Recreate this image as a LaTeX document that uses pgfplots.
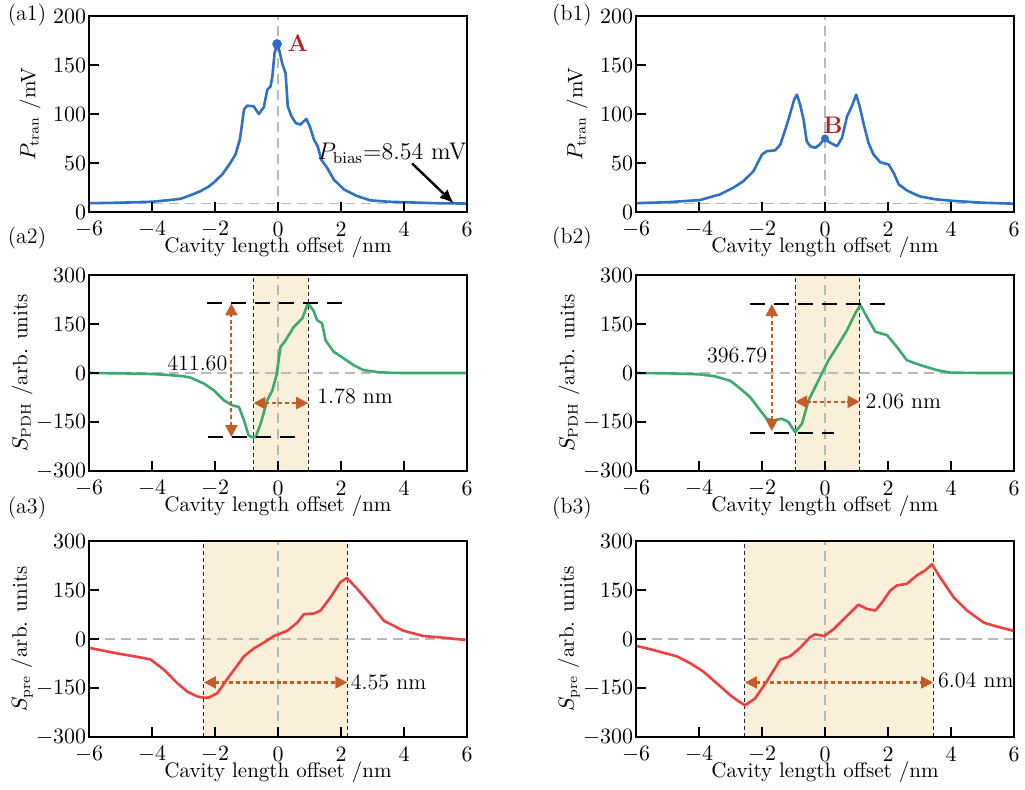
\documentclass[border=0pt]{standalone}
\usepackage{pgfplots}
\pgfplotsset{compat=1.18}
\usetikzlibrary{arrows.meta}
\definecolor{cblue}{RGB}{46,112,196}
\definecolor{cgreen}{RGB}{60,170,110}
\definecolor{cred}{RGB}{238,64,64}
\definecolor{corange}{RGB}{196,92,40}
\definecolor{cshade}{RGB}{250,240,218}
\definecolor{cgray}{RGB}{185,185,185}
\definecolor{cdark}{RGB}{178,34,34}
\tikzset{
  zeroline/.style={cgray, line width=0.7pt, dash pattern=on 5pt off 3pt},
  vline/.style={black!85, line width=0.5pt, dash pattern=on 2pt off 1.5pt},
  hline/.style={black, line width=1pt, dash pattern=on 7.5pt off 4.5pt},
  oarrow/.style={corange, line width=1.1pt, dash pattern=on 2pt off 1.4pt, {Triangle[length=6pt,width=6pt]}-{Triangle[length=6pt,width=6pt]}},
  curve/.style={line width=1.3pt, line join=round},
}
\pgfplotsset{
  panel/.style={
    scale only axis, width=189pt, height=98pt,
    xmin=-6, xmax=6, xtick={-6,-4,...,6},
    axis line style={line width=0.9pt},
    tick align=inside, tick pos=left, major tick length=5pt,
    every tick/.style={black, line width=0.9pt},
    tick label style={font=\fontsize{11}{13}\selectfont, inner sep=1pt},
    xticklabel style={anchor=center, yshift=-8.5pt},
    yticklabel style={xshift=-0.3pt},
    label style={font=\fontsize{10.5}{12}\selectfont},
    xlabel={Cavity length offset /nm},
    xlabel style={at={(axis description cs:0.5,0)}, anchor=center, yshift=-17.5pt},
    axis on top,
  },
  sig/.style={panel, ymin=-300, ymax=300, ytick={-300,-150,0,150,300},
    ylabel style={at={(axis description cs:-0.177,0.5)}, anchor=center}},
}
\begin{document}
\begin{tikzpicture}
\path[use as bounding box] (0,0) rectangle (512.5pt,-394.5pt);
\node[font=\fontsize{11}{13}\selectfont] at (13.5pt,-7.5pt) {(a1)};
\node[font=\fontsize{11}{13}\selectfont] at (13.5pt,-119pt) {(a2)};
\node[font=\fontsize{11}{13}\selectfont] at (13.5pt,-254pt) {(a3)};
\node[font=\fontsize{11}{13}\selectfont] at (286pt,-7.5pt) {(b1)};
\node[font=\fontsize{11}{13}\selectfont] at (286pt,-119pt) {(b2)};
\node[font=\fontsize{11}{13}\selectfont] at (286pt,-254pt) {(b3)};

% ---------------- (a1)
\begin{axis}[panel, at={(44.5pt,-8pt)}, anchor=north west,
  ymin=0, ymax=200, ytick={0,50,100,150,200},
  ylabel={$P_{\mathrm{tran}}$ /mV},
  ylabel style={at={(axis description cs:-0.156,0.5)}, anchor=center}]
\addplot[zeroline, forget plot] coordinates {(-6,8.54) (6,8.54)};
\addplot[zeroline, forget plot] coordinates {(0,0) (0,200)};
\addplot[cblue, curve, mark=none] coordinates {
(-6,9) (-5,9.5) (-4,10.5) (-3.5,12) (-3.09,13.5) (-2.75,17.5) (-2.45,21.4) (-2.2,26) (-2.04,30) (-1.77,38.3) (-1.51,50.2) (-1.35,58.7) (-1.21,74) (-1.08,104.4) (-0.98,108.5) (-0.77,107.8) (-0.61,100) (-0.45,107) (-0.34,124.8) (-0.24,128) (-0.18,138) (-0.11,162) (-0.03,171.5) (0.05,163.7) (0.13,152) (0.24,141.7) (0.31,107.8) (0.43,97.6) (0.56,90.9) (0.71,89.2) (0.9,95) (1.01,87.4) (1.14,74) (1.26,67.1) (1.37,53.6) (1.56,45.1) (1.77,33.2) (2.09,23.1) (2.51,16.3) (2.93,11.9) (3.5,10.5) (4,10) (5,9) (6,8.6)};
\addplot[cblue, only marks, mark=*, mark size=2.2pt] coordinates {(-0.03,171.5)};
\node[cdark, font=\fontsize{12}{14}\selectfont\bfseries] at (axis cs:0.63,172) {A};
\node[font=\fontsize{12}{14}\selectfont] at (axis cs:3.62,60) {$P_{\mathrm{bias}}$=8.54 mV};
\draw[black, line width=1.2pt, -{Latex[length=7pt,width=6pt]}] (axis cs:4.26,49.5) -- (axis cs:5.58,8.8);
\end{axis}

% ---------------- (b1)
\begin{axis}[panel, at={(318pt,-8pt)}, anchor=north west,
  ymin=0, ymax=200, ytick={0,50,100,150,200},
  ylabel={$P_{\mathrm{tran}}$ /mV},
  ylabel style={at={(axis description cs:-0.156,0.5)}, anchor=center}]
\addplot[zeroline, forget plot] coordinates {(-6,8.54) (6,8.54)};
\addplot[zeroline, forget plot] coordinates {(0,0) (0,200)};
\addplot[cblue, curve, mark=none] coordinates {
(-6,9) (-5,10) (-3.97,12.2) (-3.33,18) (-2.91,24.8) (-2.59,31.5) (-2.27,41.7) (-2.0,58.7) (-1.85,62) (-1.58,63) (-1.42,68.8) (-1.26,84) (-1.1,101) (-0.98,114.6) (-0.89,119.7) (-0.79,109.5) (-0.68,94.3) (-0.58,72.2) (-0.47,67.1) (-0.31,65.5) (-0.17,68.8) (-0.02,74.6) (0.17,70.6) (0.38,67.1) (0.54,75.6) (0.7,97.6) (0.85,107.8) (0.99,119.7) (1.1,107.8) (1.22,90.9) (1.38,70.6) (1.54,58.7) (1.75,50.8) (2.02,48.5) (2.18,40) (2.34,28.2) (2.6,22) (3.0,16) (3.5,13) (4,11.5) (5,9.5) (6,8.5)};
\addplot[cblue, only marks, mark=*, mark size=1.8pt] coordinates {(0,75)};
\node[cdark, font=\fontsize{12}{14}\selectfont\bfseries] at (axis cs:0.25,89) {B};
\end{axis}

% ---------------- (a2)
\begin{axis}[sig, at={(44.5pt,-137.5pt)}, anchor=north west,
  ylabel={$S_{\mathrm{PDH}}$ /arb. units}]
\addplot[fill=cshade, draw=none, forget plot] coordinates {(-0.78,-300) (0.96,-300) (0.96,300) (-0.78,300)} -- cycle;
\addplot[zeroline, forget plot] coordinates {(-6,0) (6,0)};
\addplot[zeroline, forget plot] coordinates {(0,-300) (0,300)};
\addplot[vline, forget plot] coordinates {(-0.78,-300) (-0.78,300)};
\addplot[vline, forget plot] coordinates {(0.96,-300) (0.96,300)};
\addplot[cgreen, curve, mark=none] coordinates {
(-6,0) (-5,-1) (-4,-3) (-3.5,-6) (-3,-10) (-2.78,-14) (-2.35,-32.5) (-2.04,-52.8) (-1.72,-83.7) (-1.45,-99) (-1.24,-104) (-1.08,-145) (-0.93,-191) (-0.82,-197) (-0.71,-196) (-0.55,-155) (-0.34,-83) (-0.18,-53) (-0.05,-7) (0.08,80) (0.24,100) (0.5,141) (0.77,167) (0.95,213) (1.12,192) (1.24,162) (1.4,152) (1.51,100) (1.77,65) (2.09,44.5) (2.4,24) (2.72,8.6) (3.15,3) (3.6,0.5) (4,0) (5,0) (6,0)};
\draw[hline] (axis cs:-2.25,213) -- (axis cs:2.06,213);
\draw[hline] (axis cs:-2.22,-196) -- (axis cs:0.55,-196);
\draw[oarrow] (axis cs:-1.48,-196) -- (axis cs:-1.48,213);
\draw[oarrow] (axis cs:-0.78,-92) -- (axis cs:0.96,-92);
\node[font=\fontsize{11}{13}\selectfont] at (axis cs:-2.56,29) {411.60};
\node[font=\fontsize{11}{13}\selectfont, anchor=west, inner sep=0pt] at (axis cs:1.24,-71) {1.78 nm};
\end{axis}

% ---------------- (b2)
\begin{axis}[sig, at={(318pt,-137.5pt)}, anchor=north west,
  ylabel={$S_{\mathrm{PDH}}$ /arb. units}]
\addplot[fill=cshade, draw=none, forget plot] coordinates {(-0.95,-300) (1.1,-300) (1.1,300) (-0.95,300)} -- cycle;
\addplot[zeroline, forget plot] coordinates {(-6,0) (6,0)};
\addplot[zeroline, forget plot] coordinates {(0,-300) (0,300)};
\addplot[vline, forget plot] coordinates {(-0.95,-300) (-0.95,300)};
\addplot[vline, forget plot] coordinates {(1.1,-300) (1.1,300)};
\addplot[cgreen, curve, mark=none] coordinates {
(-6,0) (-5,-1) (-4,-4) (-3.5,-10) (-3,-24) (-2.69,-47.7) (-2.38,-73.5) (-2.06,-114) (-1.85,-140) (-1.64,-145) (-1.37,-140) (-1.16,-150) (-0.95,-181) (-0.73,-155) (-0.52,-83) (-0.31,-42.6) (-0.1,-1.5) (0.11,39) (0.38,80) (0.7,131) (0.96,182.5) (1.12,208) (1.33,172) (1.6,126) (1.97,116) (2.28,80) (2.6,39) (3.03,24) (3.56,8.6) (4,1) (5,0) (6,0)};
\draw[hline] (axis cs:-2.37,211) -- (axis cs:1.91,211);
\draw[hline] (axis cs:-2.37,-184) -- (axis cs:0.27,-184);
\draw[oarrow] (axis cs:-1.69,-178) -- (axis cs:-1.69,211);
\draw[oarrow] (axis cs:-0.95,-88) -- (axis cs:1.1,-88);
\node[font=\fontsize{11}{13}\selectfont] at (axis cs:-2.79,55) {396.79};
\node[font=\fontsize{11}{13}\selectfont, anchor=west, inner sep=0pt] at (axis cs:1.28,-86) {2.06 nm};
\end{axis}

% ---------------- (a3)
\begin{axis}[sig, at={(44.5pt,-270.5pt)}, anchor=north west,
  ylabel={$S_{\mathrm{pre}}$ /arb. units}]
\addplot[fill=cshade, draw=none, forget plot] coordinates {(-2.35,-300) (2.2,-300) (2.2,300) (-2.35,300)} -- cycle;
\addplot[zeroline, forget plot] coordinates {(-6,0) (6,0)};
\addplot[zeroline, forget plot] coordinates {(0,-300) (0,300)};
\addplot[vline, forget plot] coordinates {(-2.35,-300) (-2.35,300)};
\addplot[vline, forget plot] coordinates {(2.2,-300) (2.2,300)};
\addplot[cred, curve, mark=none] coordinates {
(-6,-27) (-5,-46) (-4.5,-54) (-4.04,-63) (-3.62,-94) (-3.2,-135) (-2.88,-161) (-2.56,-176) (-2.35,-180) (-2.19,-179) (-1.93,-166) (-1.51,-109) (-1.08,-53) (-0.77,-29) (-0.45,-11) (-0.13,9) (0.29,25) (0.61,50) (0.82,76) (1.14,78) (1.35,87) (1.67,128) (1.98,174) (2.19,187) (2.51,154) (2.93,107) (3.36,56) (3.99,25) (4.62,9) (5.26,4) (5.95,-3)};
\draw[oarrow] (axis cs:-2.35,-133) -- (axis cs:2.2,-133);
\node[font=\fontsize{11}{13}\selectfont, anchor=west, inner sep=0pt] at (axis cs:2.3,-133) {4.55 nm};
\end{axis}

% ---------------- (b3)
\begin{axis}[sig, at={(318pt,-270.5pt)}, anchor=north west,
  ylabel={$S_{\mathrm{pre}}$ /arb. units}]
\addplot[fill=cshade, draw=none, forget plot] coordinates {(-2.54,-300) (3.43,-300) (3.43,300) (-2.54,300)} -- cycle;
\addplot[zeroline, forget plot] coordinates {(-6,0) (6,0)};
\addplot[zeroline, forget plot] coordinates {(0,-300) (0,300)};
\addplot[vline, forget plot] coordinates {(-2.54,-300) (-2.54,300)};
\addplot[vline, forget plot] coordinates {(3.43,-300) (3.43,300)};
\addplot[cred, curve, mark=none] coordinates {
(-6,-21) (-5.55,-31) (-5.13,-42) (-4.71,-53) (-4.28,-74) (-3.86,-100) (-3.43,-136) (-3.01,-172) (-2.8,-187) (-2.54,-203) (-2.22,-182) (-1.85,-130) (-1.42,-63) (-1.11,-53) (-0.79,-27) (-0.47,6) (-0.31,14.5) (-0.03,9) (0.27,30) (0.7,71) (1.06,105) (1.33,92) (1.6,87) (1.81,112) (2.07,148) (2.28,164) (2.6,169) (2.92,195) (3.18,210) (3.4,229) (3.61,195) (4.08,128) (4.51,87) (5.04,50) (5.57,35) (5.99,25)};
\draw[oarrow] (axis cs:-2.54,-133) -- (axis cs:3.43,-133);
\node[font=\fontsize{11}{13}\selectfont, anchor=west, inner sep=0pt] at (axis cs:3.58,-125) {6.04 nm};
\end{axis}
\end{tikzpicture}
\end{document}
